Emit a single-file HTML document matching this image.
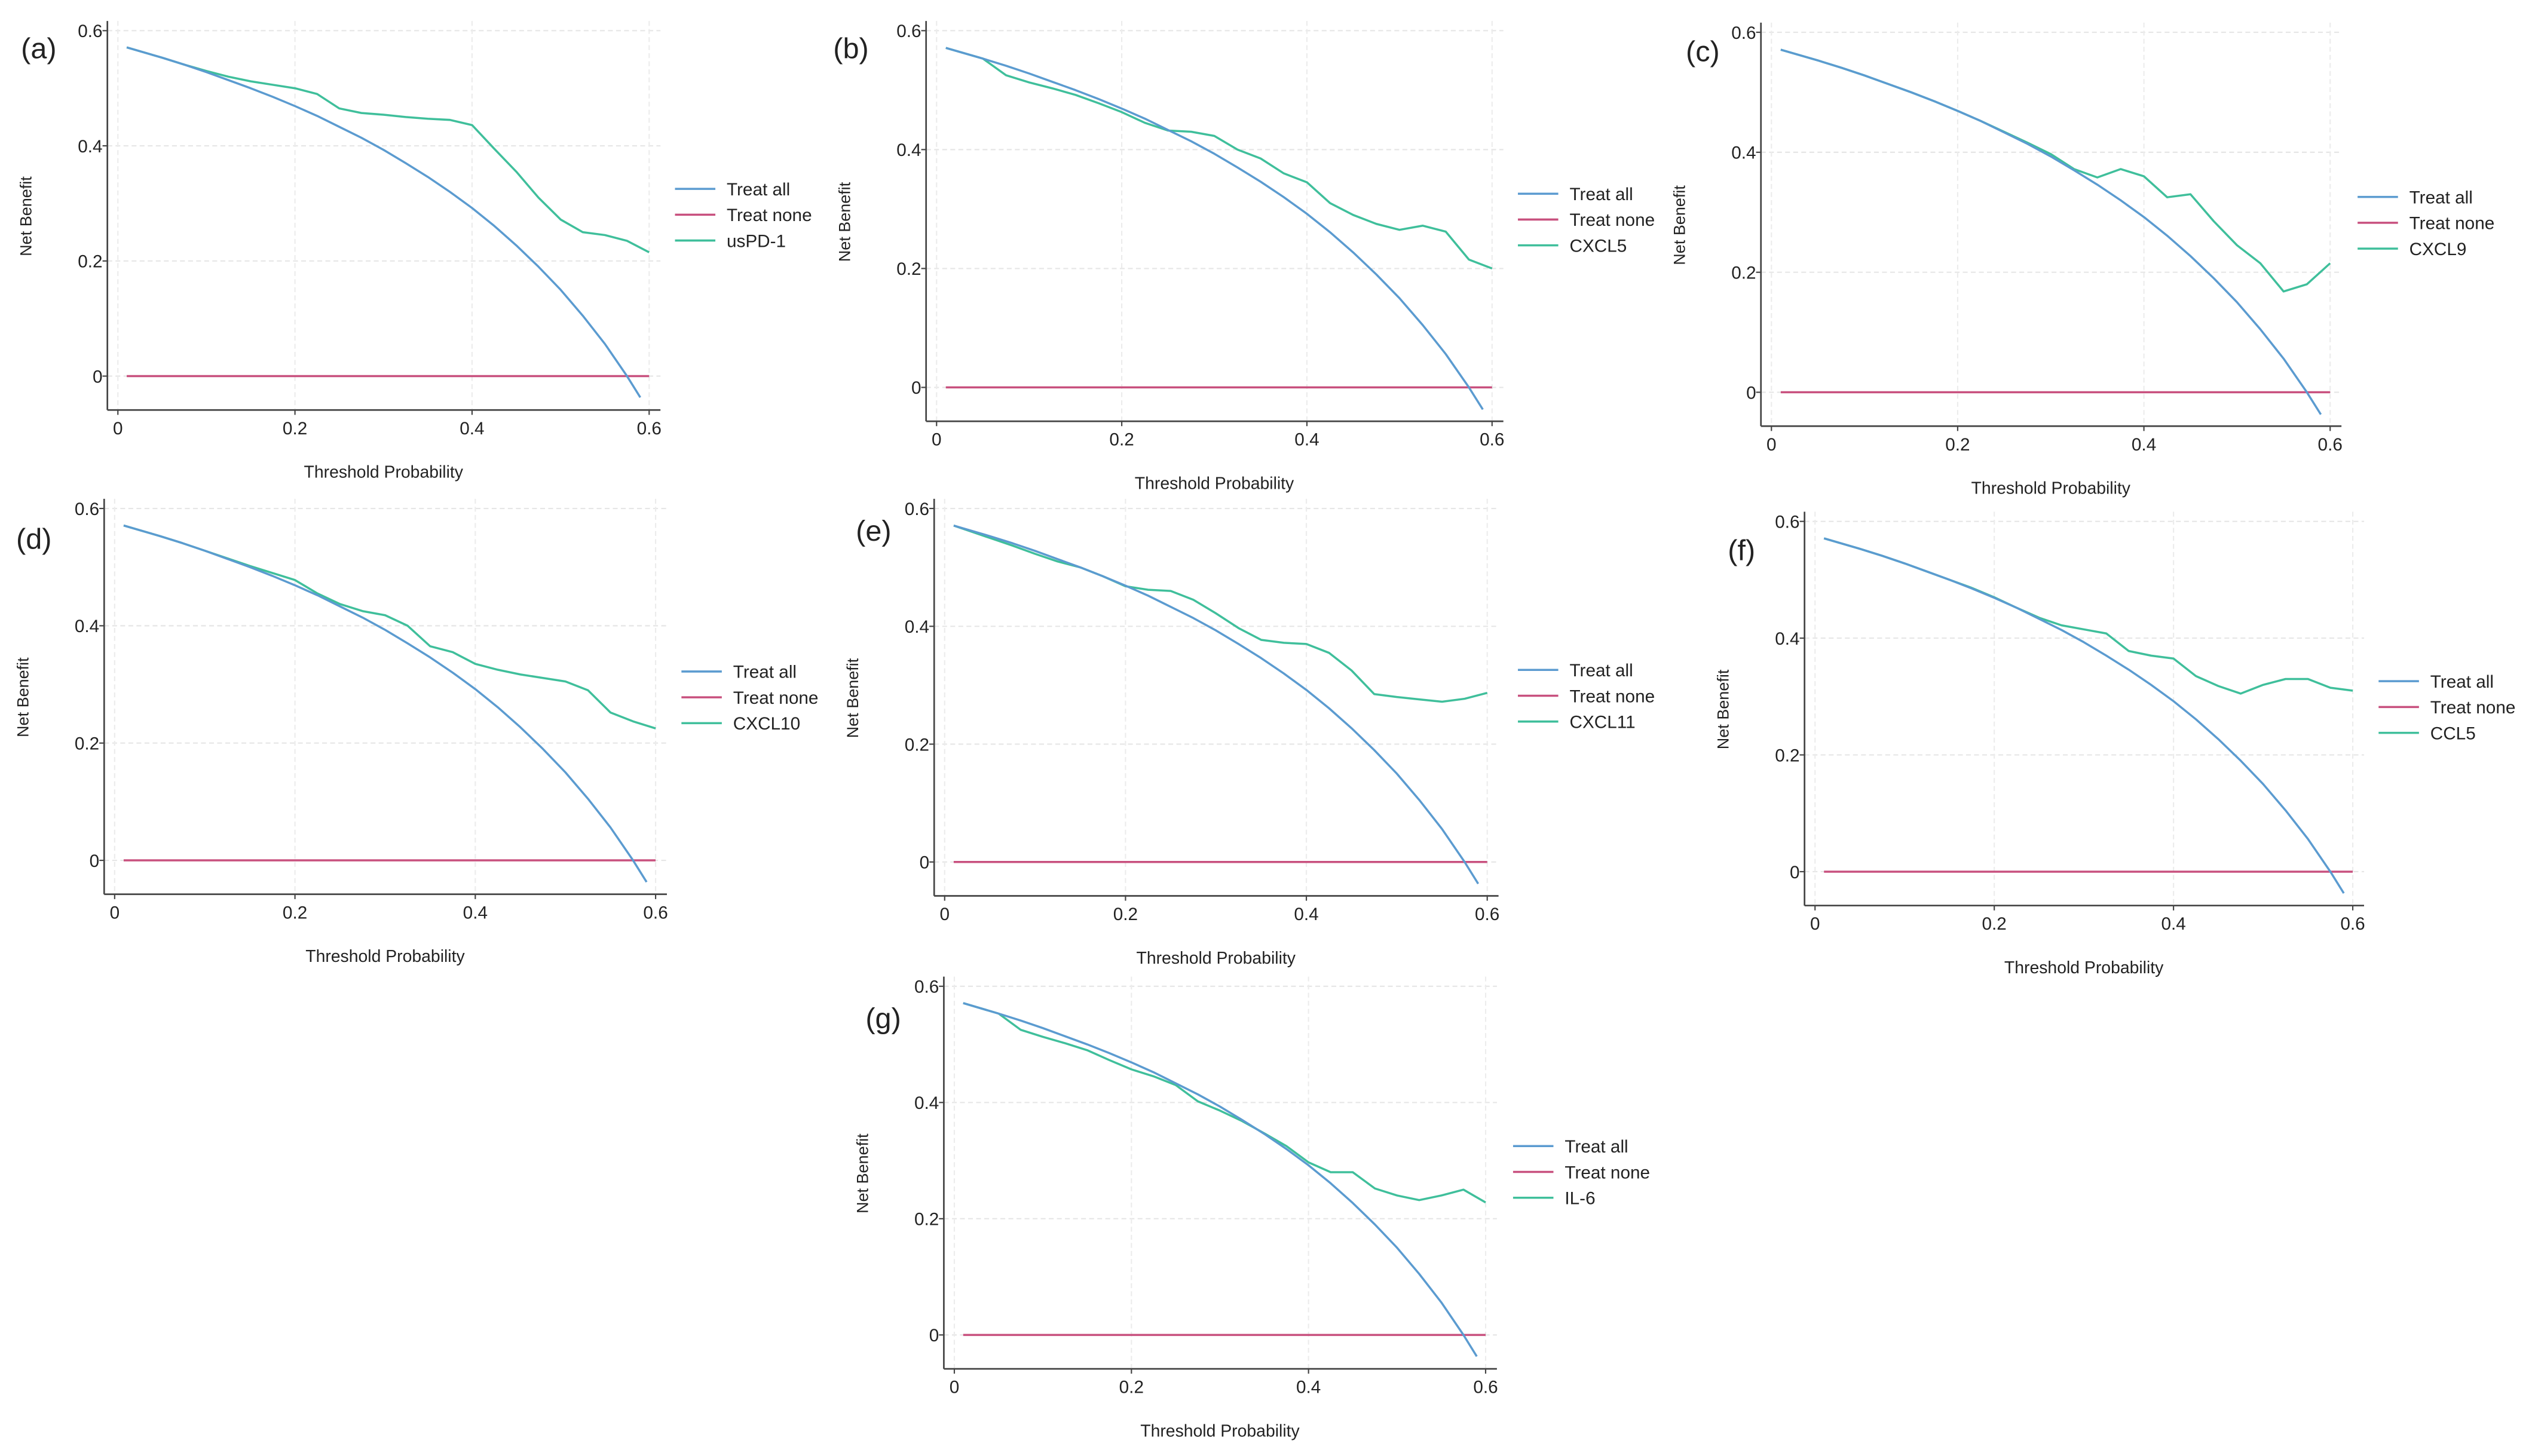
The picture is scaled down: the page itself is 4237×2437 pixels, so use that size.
<!DOCTYPE html>
<html><head><meta charset="utf-8">
<style>
html,body{margin:0;padding:0;background:#fff;}
svg{display:block;}
text{font-family:"Liberation Sans Narrow","Liberation Sans",sans-serif;fill:#222;}
</style></head>
<body>
<svg id="fig" width="4237" height="2437" viewBox="0 0 1568 902" preserveAspectRatio="none" xmlns="http://www.w3.org/2000/svg"></svg>
<script>
const xTicks = [0, 0.2, 0.4, 0.6];
const xTickLabels = ["0", "0.2", "0.4", "0.6"];
const yTicks = [0, 0.2, 0.4, 0.6];
const yTickLabels = ["0", "0.2", "0.4", "0.6"];
const treatAllX = [0.01,0.05,0.075,0.1,0.125,0.15,0.175,0.2,0.225,0.25,0.275,0.3,0.325,0.35,0.375,0.4,0.425,0.45,0.475,0.5,0.525,0.55,0.575,0.59];
const treatAllY = [0.571,0.553,0.541,0.528,0.514,0.500,0.485,0.469,0.452,0.433,0.414,0.393,0.370,0.346,0.320,0.292,0.261,0.227,0.190,0.150,0.105,0.056,0.000,-0.037];
const treatNoneX = [0.01, 0.6];
const treatNoneY = [0, 0];
const modelX = [0.01,0.05,0.075,0.1,0.125,0.15,0.175,0.2,0.225,0.25,0.275,0.3,0.325,0.35,0.375,0.4,0.425,0.45,0.475,0.5,0.525,0.55,0.575,0.6];
const usPD1 = [0.571,0.553,0.541,0.530,0.520,0.512,0.506,0.500,0.490,0.465,0.457,0.454,0.450,0.447,0.445,0.436,0.395,0.355,0.310,0.272,0.250,0.245,0.235,0.215];
const cxcl5 = [0.571,0.553,0.525,0.513,0.503,0.492,0.478,0.463,0.445,0.432,0.430,0.423,0.400,0.385,0.360,0.345,0.310,0.290,0.275,0.265,0.272,0.262,0.215,0.200];
const cxcl9 = [0.571,0.553,0.541,0.528,0.514,0.500,0.485,0.469,0.452,0.434,0.416,0.397,0.372,0.358,0.372,0.360,0.325,0.330,0.285,0.245,0.215,0.168,0.180,0.215];
const cxcl10 = [0.571,0.553,0.541,0.528,0.515,0.502,0.490,0.478,0.455,0.437,0.425,0.418,0.400,0.365,0.355,0.335,0.325,0.317,0.311,0.305,0.290,0.252,0.237,0.225];
const cxcl11 = [0.571,0.550,0.537,0.523,0.510,0.500,0.485,0.468,0.462,0.460,0.445,0.422,0.397,0.377,0.372,0.370,0.355,0.325,0.285,0.280,0.276,0.272,0.277,0.287];
const ccl5 = [0.571,0.553,0.541,0.528,0.514,0.500,0.486,0.470,0.452,0.435,0.422,0.415,0.408,0.378,0.370,0.365,0.335,0.318,0.305,0.320,0.330,0.330,0.315,0.310];
const il6 = [0.571,0.553,0.525,0.513,0.502,0.490,0.473,0.457,0.445,0.430,0.402,0.386,0.368,0.347,0.325,0.297,0.280,0.280,0.252,0.240,0.232,0.240,0.250,0.228];
const legendLabels = ["Treat all", "Treat none"];

const panels = [
 {id:"a", name:"usPD-1", y:usPD1,  x0:73,  x6:402, y6:19,  y0:233, lx:418, ly:117, lb:[13,36]},
 {id:"b", name:"CXCL5",  y:cxcl5,  x0:580, x6:924, y6:19,  y0:240, lx:940, ly:120, lb:[516,36]},
 {id:"c", name:"CXCL9",  y:cxcl9,  x0:1097,x6:1443,y6:20,  y0:243, lx:1460,ly:122, lb:[1044,38]},
 {id:"d", name:"CXCL10", y:cxcl10, x0:71,  x6:406, y6:315, y0:533, lx:422, ly:416, lb:[10,340]},
 {id:"e", name:"CXCL11", y:cxcl11, x0:585, x6:921, y6:315, y0:534, lx:940, ly:415, lb:[530,335]},
 {id:"f", name:"CCL5",   y:ccl5,   x0:1124,x6:1457,y6:323, y0:540, lx:1473,ly:422, lb:[1070,347]},
 {id:"g", name:"IL-6",   y:il6,    x0:591, x6:920, y6:611, y0:827, lx:937, ly:710, lb:[536,637]}
];
const C_ALL="#5b9bd0", C_NONE="#c8507e", C_MODEL="#3fbf9b";
const NS="http://www.w3.org/2000/svg";
const svg=document.getElementById("fig");
function mk(tag,attrs,parent){const e=document.createElementNS(NS,tag);for(const k in attrs)e.setAttribute(k,attrs[k]);parent.appendChild(e);return e;}

panels.forEach(p=>{
  const g=mk("g",{},svg);
  
  
  const sx=v=>p.x0+(v/0.6)*(p.x6-p.x0);
  const sy=v=>p.y0-(v/0.6)*(p.y0-p.y6);
  const axX=p.x0-6.5, axB=p.y0+21, axT=p.y6-6, axR=p.x6+7;
  // grid
  yTicks.forEach(t=>{const l=mk("line",{x1:axX,x2:axR,y1:sy(t),y2:sy(t),stroke:"#e6e6e6","stroke-width":0.8,"stroke-dasharray":"3,2"},g);
    
    });
  xTicks.forEach(t=>{const l=mk("line",{x1:sx(t),x2:sx(t),y1:axT,y2:axB,stroke:"#ececec","stroke-width":0.8,"stroke-dasharray":"3,2"},g);
    
    });
  // axes
  const ya=mk("line",{x1:axX,x2:axX,y1:axT,y2:axB,stroke:"#444","stroke-width":1},g);
  
  
  const xa=mk("line",{x1:axX,x2:axR,y1:axB,y2:axB,stroke:"#444","stroke-width":1},g);
  
  
  yTicks.forEach((t,i)=>{
    mk("line",{x1:axX-3,x2:axX,y1:sy(t),y2:sy(t),stroke:"#444","stroke-width":0.8},g);
    const tx=mk("text",{x:axX-3,y:sy(t)+4,"text-anchor":"end","font-size":11},g);
    tx.textContent=yTickLabels[i];
    
    
  });
  xTicks.forEach((t,i)=>{
    mk("line",{x1:sx(t),x2:sx(t),y1:axB,y2:axB+3,stroke:"#444","stroke-width":0.8},g);
    const tx=mk("text",{x:sx(t),y:axB+15,"text-anchor":"middle","font-size":11},g);
    tx.textContent=xTickLabels[i];
    
    
  });
  const xt=mk("text",{x:(p.x0+p.x6)/2,y:p.y0+63,"text-anchor":"middle","font-size":10.5},g);
  xt.textContent="Threshold Probability";
  
  
  const ytx=axX-47, yty=(p.y0+p.y6)/2+8;
  const yt=mk("text",{x:ytx,y:yty,"text-anchor":"middle","font-size":10,"font-family":"Liberation Sans, sans-serif",transform:`rotate(-90 ${ytx} ${yty})`},g);
  yt.textContent="Net Benefit";
  
  
  const lbl=mk("text",{x:p.lb[0],y:p.lb[1],"font-size":18,"font-family":"Liberation Sans, sans-serif"},g);
  lbl.textContent="("+p.id+")";
  
  
  // series
  const path=(xs,ys)=>xs.map((x,i)=>(i?"L":"M")+sx(x).toFixed(2)+","+sy(ys[i]).toFixed(2)).join("");
  const sn=mk("path",{d:path(treatNoneX,treatNoneY),stroke:C_NONE,"stroke-width":1.3,fill:"none"},g);
  
  
  const sm=mk("path",{d:path(modelX,p.y),stroke:C_MODEL,"stroke-width":1.3,fill:"none","stroke-linejoin":"round"},g);
  
  
  const sa=mk("path",{d:path(treatAllX,treatAllY),stroke:C_ALL,"stroke-width":1.3,fill:"none","stroke-linejoin":"round"},g);
  
  
  // legend
  const labels=[legendLabels[0],legendLabels[1],p.name], cols=[C_ALL,C_NONE,C_MODEL];
  labels.forEach((t,i)=>{
    const yy=p.ly+i*16;
    const ln=mk("line",{x1:p.lx,x2:p.lx+25,y1:yy,y2:yy,stroke:cols[i],"stroke-width":1.3},g);
    
    
    const tx=mk("text",{x:p.lx+32,y:yy+4,"font-size":11},g);
    tx.textContent=t;
    
    
  });
});
</script>
</body></html>
